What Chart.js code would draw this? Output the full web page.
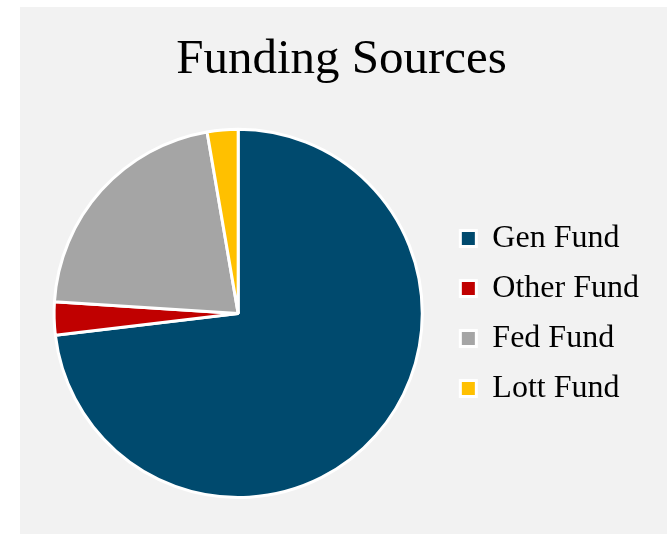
<!DOCTYPE html>
<html>
<head>
<meta charset="utf-8">
<script src="https://cdn.jsdelivr.net/npm/chart.js@4"></script>
<style>
  html, body { margin: 0; padding: 0; background: #ffffff; }
  #wrap { position: absolute; left: 20px; top: 7px; width: 647px; height: 527px; background: #f2f2f2; }
</style>
</head>
<body>
<div id="wrap"><canvas id="pieChart"></canvas></div>
<script>
const categories = ['Gen Fund', 'Other Fund', 'Fed Fund', 'Lott Fund'];
const shares = [73.1, 2.9, 21.3, 2.7];
const sliceColors = ['#004a6e', '#c00000', '#a5a5a5', '#ffc000'];

const ctx = document.getElementById('pieChart');

const pieChart = new Chart(ctx.getContext('2d'), {
    type: 'pie',
    data: {
        labels: categories,
        datasets: [{
            data: shares,
            backgroundColor: sliceColors,
            borderColor: '#ffffff',
            borderWidth: 3
        }]
    },
    options: {
        responsive: true,
        maintainAspectRatio: false,
        animation: false,
        layout: {
            padding: { left: 14, right: 18, bottom: 35, top: 0 }
        },
        plugins: {
            title: {
                display: true,
                text: 'Funding Sources',
                color: '#000000',
                font: { family: "'Liberation Serif', 'Times New Roman', serif", size: 49, weight: 'normal' },
                padding: { top: 24, bottom: 38 }
            },
            legend: {
                position: 'right',
                fullSize: false,
                labels: {
                    color: '#000000',
                    font: { family: "'Liberation Serif', 'Times New Roman', serif", size: 32 },
                    boxWidth: 16,
                    boxHeight: 16,
                    padding: 18
                }
            },
            tooltip: { enabled: false }
        }
    }
});
</script>
</body>
</html>
